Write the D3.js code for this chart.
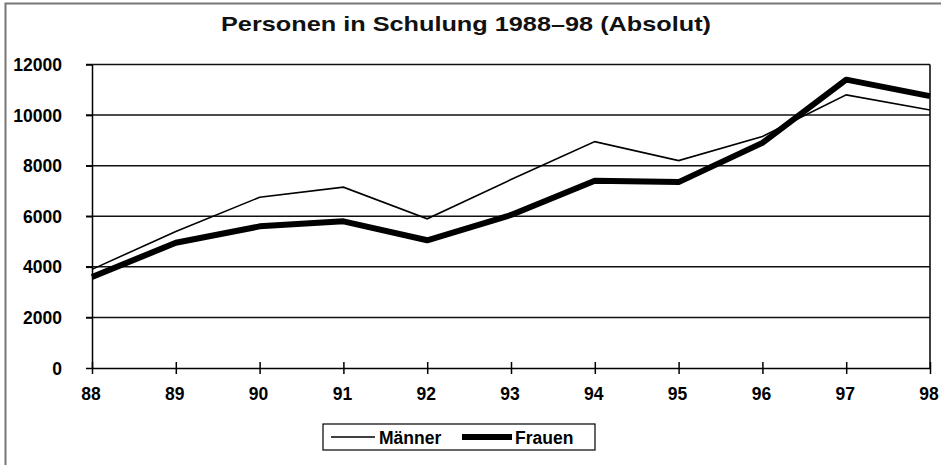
<!DOCTYPE html>
<meta charset="utf-8">
<head>
<style>
body { margin: 0; background: #fff; }
svg { display: block; font-family: "Liberation Sans", Arial, Helvetica, sans-serif; font-weight: bold; }
.grid line { stroke: #111; stroke-width: 1.5; }
.axis path, .axis line { stroke: #000; stroke-width: 1.5; }
.axis text { fill: #000; font-size: 17.5px; font-weight: bold; }
path.line-0 { fill: none; stroke: #000; stroke-width: 1.6; }
path.line-1 { fill: none; stroke: #000; stroke-width: 6; stroke-linejoin: round; }
</style>
</head>
<body>
<script src="https://cdnjs.cloudflare.com/ajax/libs/d3/7.8.5/d3.min.js"></script>
<script>
// data
var years = ["88", "89", "90", "91", "92", "93", "94", "95", "96", "97", "98"];
var maenner = [3900, 5400, 6750, 7150, 5900, 7450, 8950, 8200, 9150, 10800, 10200];
var frauen = [3600, 4950, 5600, 5800, 5050, 6050, 7400, 7350, 8900, 11400, 10750];
var yTicks = [0, 2000, 4000, 6000, 8000, 10000, 12000];
var seriesNames = ["Männer", "Frauen"];

var width = 941, height = 465;
var plotLeft = 92, plotRight = 930, plotTop = 64.5, plotBottom = 368;

var svg = d3.select("body").append("svg")
    .attr("width", width)
    .attr("height", height);

// outer frame (right/bottom fall outside the window)
svg.append("rect")
    .attr("x", 5.5).attr("y", 3.5)
    .attr("width", 1000).attr("height", 1000)
    .attr("fill", "none")
    .attr("stroke", "#777")
    .attr("stroke-width", 2);

//----------------------------SCALES----------------------------//
var xScale = d3.scalePoint().domain(years).range([plotLeft, plotRight]);
var yScale = d3.scaleLinear().domain([0, 12000]).range([plotBottom, plotTop]);

//----------------------------GRID------------------------------//
svg.append("g")
    .attr("class", "grid")
    .selectAll("line")
    .data(yTicks.filter(function(d) { return d > 0; }))
    .enter().append("line")
    .attr("x1", plotLeft - 6).attr("x2", plotRight)
    .attr("y1", function(d) { return yScale(d); })
    .attr("y2", function(d) { return yScale(d); });

// right border of plot area
svg.append("line")
    .attr("x1", plotRight).attr("x2", plotRight)
    .attr("y1", plotTop).attr("y2", plotBottom)
    .attr("stroke", "#000").attr("stroke-width", 1.5);

//-----------------------------AXES-----------------------------//
var yaxis = d3.axisLeft(yScale).tickValues(yTicks).tickSize(6).tickSizeOuter(0)
    .tickFormat(d3.format("d"));
var gy = svg.append("g")
    .attr("class", "axis")
    .attr("transform", "translate(" + plotLeft + ",0)")
    .call(yaxis);
gy.selectAll("text").attr("x", -30).attr("dy", "0.35em");

var xaxis = d3.axisBottom(xScale).tickSizeInner(6).tickSizeOuter(0);
var gx = svg.append("g")
    .attr("class", "axis")
    .attr("transform", "translate(0," + plotBottom + ")")
    .call(xaxis);
gx.selectAll(".tick line").attr("y1", -6);
gx.selectAll("text").attr("y", 20).attr("dy", "0.71em").attr("dx", -1.5);

//----------------------------LINES-----------------------------//
var slices = [maenner, frauen].map(function(vals, i) {
    return { id: seriesNames[i], values: vals.map(function(v, j) { return { year: years[j], value: v }; }) };
});

var line = d3.line()
    .x(function(d) { return xScale(d.year); })
    .y(function(d) { return yScale(d.value); });

svg.selectAll(".series")
    .data(slices)
    .enter().append("path")
    .attr("class", function(d, i) { return "line-" + i; })
    .attr("d", function(d) { return line(d.values); });

//----------------------------TITLE-----------------------------//
svg.append("text")
    .attr("x", 466).attr("y", 31)
    .attr("text-anchor", "middle")
    .attr("textLength", 490)
    .attr("lengthAdjust", "spacingAndGlyphs")
    .style("font-size", "21px")
    .style("fill", "#111")
    .text("Personen in Schulung 1988–98 (Absolut)");

//----------------------------LEGEND----------------------------//
var legend = svg.append("g");
legend.append("rect")
    .attr("x", 323).attr("y", 424)
    .attr("width", 272).attr("height", 26)
    .attr("fill", "#fff").attr("stroke", "#000").attr("stroke-width", 1.2);

var legendItems = [
    { name: seriesNames[0], x1: 331, x2: 375, tx: 379, w: 1.6 },
    { name: seriesNames[1], x1: 462, x2: 512, tx: 515, w: 6 }
];
legendItems.forEach(function(d) {
    legend.append("line")
        .attr("x1", d.x1).attr("x2", d.x2)
        .attr("y1", 437).attr("y2", 437)
        .attr("stroke", "#000").attr("stroke-width", d.w);
    legend.append("text")
        .attr("x", d.tx).attr("y", 443.5)
        .style("font-size", "17.5px")
        .text(d.name);
});
</script>
</body>
</html>
